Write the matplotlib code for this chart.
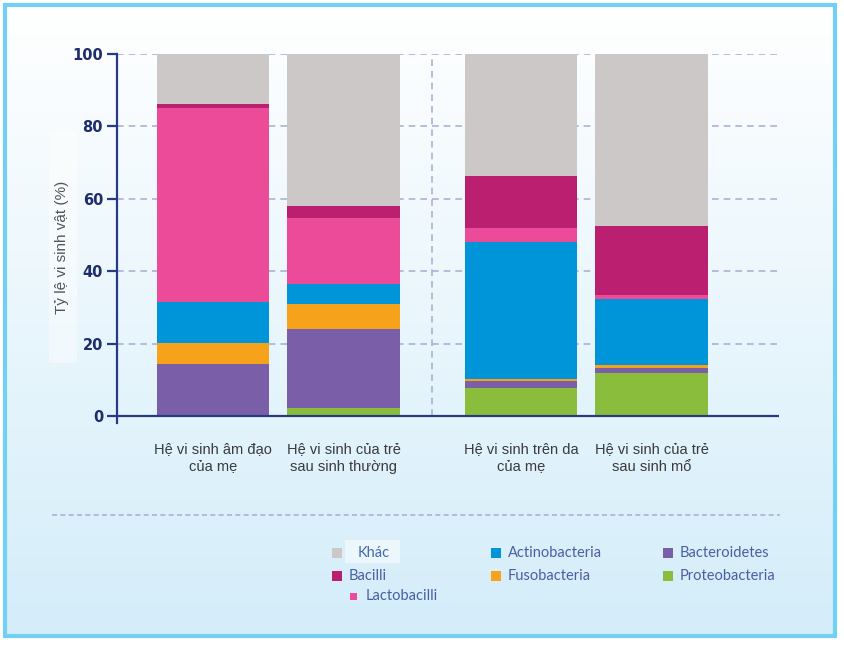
import numpy as np
import matplotlib.pyplot as plt
from matplotlib.patches import Rectangle
from matplotlib.lines import Line2D

# dữ liệu (%)
categories = ['Hệ vi sinh âm đạo\ncủa mẹ', 'Hệ vi sinh của trẻ\nsau sinh thường',
              'Hệ vi sinh trên da\ncủa mẹ', 'Hệ vi sinh của trẻ\nsau sinh mổ']
proteobacteria = [0.0, 2.3, 7.8, 12.0]
bacteroidetes = [14.4, 21.7, 2.0, 1.2]
fusobacteria = [5.7, 6.9, 0.4, 0.9]
actinobacteria = [11.5, 5.6, 37.9, 18.1]
lactobacilli = [53.6, 18.2, 3.8, 1.1]
bacilli = [1.0, 3.3, 14.5, 19.2]
khac = [13.8, 42.0, 33.6, 47.5]

series = [
    ('Proteobacteria', proteobacteria, '#8bbd3d'),
    ('Bacteroidetes', bacteroidetes, '#7a5ea7'),
    ('Fusobacteria', fusobacteria, '#f6a31b'),
    ('Actinobacteria', actinobacteria, '#0095d8'),
    ('Lactobacilli', lactobacilli, '#ec4b9a'),
    ('Bacilli', bacilli, '#bb1f70'),
    ('Khác', khac, '#cbc8c7'),
]
colors = {name: c for name, _, c in series}

navy = '#263b82'
grid_col = '#aeb0d4'

W, H = 845, 645
fig = plt.figure(figsize=(W / 100, H / 100), dpi=100)

# nền gradient + khung
bg = fig.add_axes([0, 0, 1, 1])
bg.set_xlim(0, W)
bg.set_ylim(H, 0)
bg.axis('off')
grad = np.linspace(0, 1, 256).reshape(-1, 1)
top = np.array([1.0, 1.0, 1.0])
bot = np.array([0.83, 0.93, 0.98])
img = top + grad[..., None] * (bot - top)
bg.imshow(img, extent=[5, 835, 636, 5], aspect='auto', zorder=0)
bg.add_patch(Rectangle((5, 5), 830, 631, fill=False, edgecolor='#72d0f5', lw=3, zorder=2))
# hộp mờ sau nhãn trục y
bg.add_patch(Rectangle((49, 132), 28, 231, facecolor='white', alpha=0.45, lw=0, zorder=1))
# đường kẻ ngăn cách
bg.add_line(Line2D([52, 780], [515, 515], color=grid_col, lw=1.2, linestyle=(0, (3, 2)), zorder=1))

# biểu đồ chính
ax = fig.add_axes([117 / W, 1 - 423 / H, 662 / W, 369 / H])
ax.patch.set_alpha(0)
pos = np.array([0, 1, 2.36, 3.36])
width = 0.86
bottom = np.zeros(len(categories))
for name, vals, c in series:
    ax.bar(pos, vals, width=width, bottom=bottom, color=c, zorder=2, lw=0)
    bottom += np.array(vals)

ax.set_xlim(-0.736, 4.337)
ax.set_ylim(-1.93, 100)
ax.set_yticks([0, 20, 40, 60, 80, 100])
for y in [20, 40, 60, 80, 100]:
    ax.axhline(y, color=grid_col, lw=1.2, linestyle=(0, (4, 3)), zorder=1)
ax.vlines(1.68, 0, 100, color=grid_col, lw=1.2, linestyle=(0, (4, 3)), zorder=1)
ax.axhline(0, color=navy, lw=1.6, zorder=3)

for s in ['top', 'right', 'bottom']:
    ax.spines[s].set_visible(False)
ax.spines['left'].set_color(navy)
ax.spines['left'].set_linewidth(1.6)
ax.tick_params(axis='y', colors=navy, length=7, width=1.6, pad=3)
for t in ax.get_yticklabels():
    t.set_fontweight('bold')
    t.set_fontsize(10.5)
    t.set_color('#1e2d6b')

ax.set_xticks(pos)
ax.set_xticklabels(categories, fontsize=10.5, color='#3a3a3a', family='Liberation Sans',
                   linespacing=1.35)
ax.tick_params(axis='x', length=0, pad=14)

fig.text(62 / W, 1 - 247 / H, 'Tỷ lệ vi sinh vật (%)', rotation=90, ha='center', va='center',
         fontsize=11, color='#555555', family='Liberation Sans')

# chú giải
legend_items = [
    ('Khác', 337, 553, 10),
    ('Bacilli', 337, 576, 10),
    ('Lactobacilli', 354, 596, 7),
    ('Actinobacteria', 496, 553, 10),
    ('Fusobacteria', 496, 576, 10),
    ('Bacteroidetes', 668, 553, 10),
    ('Proteobacteria', 668, 576, 10),
]
for name, x, y, s in legend_items:
    bg.add_patch(Rectangle((x - s / 2, y - s / 2), s, s, facecolor=colors[name], lw=0, zorder=3))
    tx = x + 12 if name != 'Khác' else x + 21
    bg.text(tx, y, name, ha='left', va='center', fontsize=10.5, family='Lato',
            color='#3d6ab0' if name == 'Khác' else '#4a5fa3', zorder=3)
bg.add_patch(Rectangle((345, 540), 55, 23, facecolor='white', alpha=0.5, lw=0, zorder=2))

fig.savefig('out.png', dpi=100)
